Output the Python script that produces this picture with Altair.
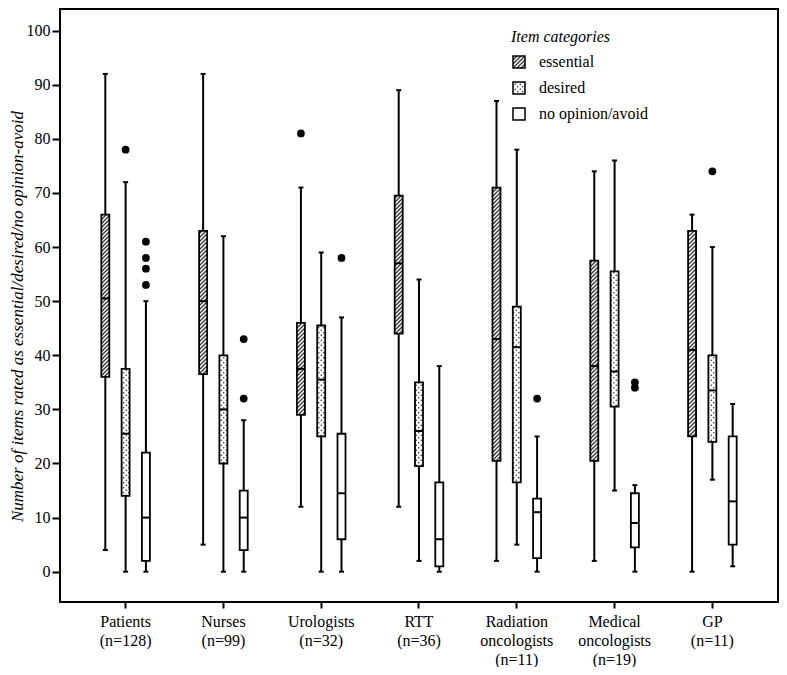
import altair as alt
import pandas as pd
import jinja2

# ---------------- data ----------------
groups = ["Patients|(n=128)", "Nurses|(n=99)", "Urologists|(n=32)", "RTT|(n=36)",
          "Radiation|oncologists|(n=11)", "Medical|oncologists|(n=19)", "GP|(n=11)"]
categories = ["essential", "desired", "no opinion/avoid"]

ess_lo = [4, 5, 12, 12, 2, 2, 0]
ess_q1 = [36, 36.5, 29, 44, 20.5, 20.5, 25]
ess_med = [50.5, 50, 37.5, 57, 43, 38, 41]
ess_q3 = [66, 63, 46, 69.5, 71, 57.5, 63]
ess_hi = [92, 92, 71, 89, 87, 74, 66]

des_lo = [0, 0, 0, 2, 5, 15, 17]
des_q1 = [14, 20, 25, 19.5, 16.5, 30.5, 24]
des_med = [25.5, 30, 35.5, 26, 41.5, 37, 33.5]
des_q3 = [37.5, 40, 45.5, 35, 49, 55.5, 40]
des_hi = [72, 62, 59, 54, 78, 76, 60]

noo_lo = [0, 0, 0, 0, 0, 0, 1]
noo_q1 = [2, 4, 6, 1, 2.5, 4.5, 5]
noo_med = [10, 10, 14.5, 6, 11, 9, 13]
noo_q3 = [22, 15, 25.5, 16.5, 13.5, 14.5, 25]
noo_hi = [50, 28, 47, 38, 25, 16, 31]

out_group = [0, 0, 0, 0, 0, 1, 1, 2, 2, 4, 5, 5, 6]
out_cat = [1, 2, 2, 2, 2, 2, 2, 0, 2, 2, 2, 2, 1]
out_val = [78, 61, 58, 56, 53, 43, 32, 81, 58, 32, 35, 34, 74]

stats = {
    "essential": (ess_lo, ess_q1, ess_med, ess_q3, ess_hi),
    "desired": (des_lo, des_q1, des_med, des_q3, des_hi),
    "no opinion/avoid": (noo_lo, noo_q1, noo_med, noo_q3, noo_hi),
}
rows = []
for c in categories:
    lo, q1, md, q3, hi = stats[c]
    for i, g in enumerate(groups):
        rows.append(dict(group=g, cat=c, lo=lo[i], q1=q1[i], med=md[i], q3=q3[i], hi=hi[i]))
box_df = pd.DataFrame(rows)
out_df = pd.DataFrame(dict(group=[groups[i] for i in out_group],
                           cat=[categories[i] for i in out_cat],
                           val=out_val))

fills = ["url(#hatch)", "url(#dots)", "#ffffff"]
FONT = "Liberation Serif"

x_enc = alt.X("group:N", sort=groups,
              scale=alt.Scale(domain=groups, paddingInner=0, paddingOuter=0.171),
              axis=alt.Axis(title=None, labelExpr="split(datum.label, '|')", labelAngle=0,
                            tickSize=6, labelPadding=5, labelLineHeight=19,
                            labelBaseline="top", labelFont=FONT, labelFontSize=16))
xo_enc = alt.XOffset("cat:N", scale=alt.Scale(domain=categories, paddingInner=0, paddingOuter=0.909))
yscale = alt.Scale(domain=[-5.6, 104.0], nice=False, zero=False)
y_axis = alt.Axis(values=list(range(0, 101, 10)), tickSize=8, labelPadding=2,
                  labelFont=FONT, labelFontSize=16,
                  title="Number of items rated as essential/desired/no opinion-avoid",
                  titleFontStyle="italic", titleFontWeight="normal", titleFontSize=17,
                  titleFont=FONT, titleX=-43, titleY=307, titleAngle=-90,
                  titleBaseline="middle", titleAlign="center")

base = alt.Chart(box_df)
whisk = base.mark_rule(color="black", strokeWidth=2).encode(
    x=x_enc, xOffset=xo_enc, y=alt.Y("lo:Q", scale=yscale, axis=y_axis), y2="hi:Q")
cap_lo = base.mark_tick(color="black", size=5, thickness=2, opacity=1).encode(
    x=x_enc, xOffset=xo_enc, y=alt.Y("lo:Q"))
cap_hi = base.mark_tick(color="black", size=5, thickness=2, opacity=1).encode(
    x=x_enc, xOffset=xo_enc, y=alt.Y("hi:Q"))
box = base.mark_bar(size=8, stroke="black", strokeWidth=1.8).encode(
    x=x_enc, xOffset=xo_enc, y=alt.Y("q1:Q"), y2="q3:Q",
    fill=alt.Fill("cat:N", scale=alt.Scale(domain=categories, range=fills),
                  legend=alt.Legend(title="Item categories", orient="none",
                                    legendX=451, legendY=20, padding=0,
                                    symbolType="square", symbolSize=144,
                                    symbolStrokeColor="black", symbolStrokeWidth=1.5,
                                    titleFont=FONT, titleFontStyle="italic",
                                    titleFontWeight="normal", titleFontSize=16,
                                    titleColor="black", titlePadding=9,
                                    labelFont=FONT, labelFontSize=16, labelColor="black",
                                    labelOffset=12, rowPadding=8)))
med = base.mark_tick(color="black", size=8, thickness=2, opacity=1).encode(
    x=x_enc, xOffset=xo_enc, y=alt.Y("med:Q"))
outl = alt.Chart(out_df).mark_circle(size=60, color="black", opacity=1).encode(
    x=x_enc, xOffset=xo_enc, y=alt.Y("val:Q"))

chart = alt.layer(whisk, cap_lo, cap_hi, box, med, outl).properties(
    width=718, height=593,
    autosize=alt.AutoSizeParams(type="none"),
    padding={"left": 52, "top": 1, "right": 1, "bottom": 65},
    background="white",
).configure_view(stroke="black", strokeWidth=2).configure_axis(
    domain=False, grid=False, tickColor="black", tickWidth=2,
    labelColor="black", labelFont=FONT, labelFontSize=16, titleColor="black",
)

TEMPLATE = jinja2.Template("""<!DOCTYPE html>
<html>
<head>
  <style>
    #{{ output_div }}.vega-embed { width: 100%; display: flex; }
    #{{ output_div }}.vega-embed details,
    #{{ output_div }}.vega-embed details summary { position: relative; }
  </style>
  <script type="text/javascript" src="{{ base_url }}/vega@{{ vega_version }}"></script>
  <script type="text/javascript" src="{{ base_url }}/vega-lite@{{ vegalite_version }}"></script>
  <script type="text/javascript" src="{{ base_url }}/vega-embed@{{ vegaembed_version }}"></script>
</head>
<body>
  <svg width="0" height="0" style="position:absolute">
    <defs>
      <pattern id="hatch" patternUnits="userSpaceOnUse" width="4" height="4">
        <rect width="4" height="4" fill="#ffffff"/>
        <path d="M-1,1 l2,-2 M0,4 l4,-4 M3,5 l2,-2" stroke="#333333" stroke-width="1.3"/>
      </pattern>
      <pattern id="dots" patternUnits="userSpaceOnUse" width="5" height="5">
        <rect width="5" height="5" fill="#ffffff"/>
        <circle cx="1.25" cy="1.25" r="0.75" fill="#222222"/>
        <circle cx="3.75" cy="3.75" r="0.75" fill="#222222"/>
      </pattern>
    </defs>
  </svg>
  <div id="{{ output_div }}"></div>
  <script>
    (function(vegaEmbed) {
      var spec = {{ spec }};
      var embedOpt = {{ embed_options }};
      function showError(el, error){
        el.innerHTML = '<div style="color:red;"><p>JavaScript Error: ' + error.message + '</p></div>';
        throw error;
      }
      const el = document.getElementById('{{ output_div }}');
      vegaEmbed("#{{ output_div }}", spec, embedOpt).catch(error => showError(el, error));
    })(vegaEmbed);
  </script>
</body>
</html>
""")

chart.save("out.html", embed_options={"renderer": "svg", "actions": False}, template=TEMPLATE)
